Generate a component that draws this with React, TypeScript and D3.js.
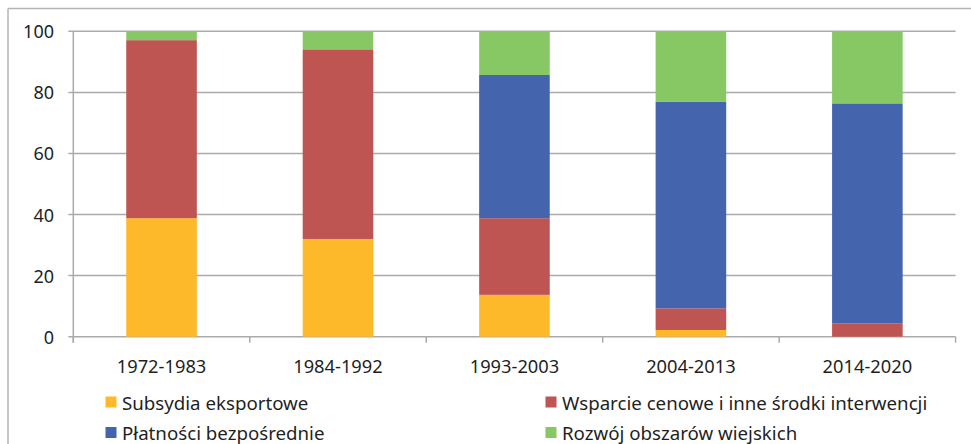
import React from "react";
import * as d3 from "d3";

const categories = ["1972-1983", "1984-1992", "1993-2003", "2004-2013", "2014-2020"];
const seriesNames = [
  "Subsydia eksportowe",
  "Wsparcie cenowe i inne środki interwencji",
  "Płatności bezpośrednie",
  "Rozwój obszarów wiejskich",
];
const subsydia = [38.8, 32, 13.7, 2.2, 0];
const wsparcie = [58.3, 62.1, 25.1, 7.1, 4.4];
const platnosci = [0, 0, 46.9, 67.7, 72.0];
const rozwoj = [2.9, 5.9, 14.3, 23.0, 23.6];
const yTicks = [0, 20, 40, 60, 80, 100];
const colors = ["#FDB92A", "#BE5552", "#4464AE", "#88C864"];

const W = 971;
const H = 444;
const left = 73.3;
const right = 955.6;
const top = 31.3;
const bottom = 336.7;
const font = "'Noto Sans', sans-serif";

export default function App() {
  const x = d3.scaleBand<string>().domain(categories).range([left, right]).padding(0);
  const y = d3.scaleLinear().domain([0, 100]).range([bottom, top]);
  const rows = categories.map((c, i) => ({
    cat: c,
    s0: subsydia[i],
    s1: wsparcie[i],
    s2: platnosci[i],
    s3: rozwoj[i],
  }));
  const stack = d3.stack<any>().keys(["s0", "s1", "s2", "s3"])(rows);
  const bw = x.bandwidth() * 0.4;
  const grid = "#ababab";
  const legendPos = [
    { x: 105.5, y: 402 },
    { x: 545.5, y: 402 },
    { x: 105.5, y: 432.5 },
    { x: 545.5, y: 432.5 },
  ];
  const boundaries = categories.map((c) => x(c)!).concat([right]);

  return (
    <div style={{ position: "fixed", left: 0, top: 0 }}>
      <svg width={W} height={H} style={{ display: "block", background: "#fff" }}>
        <line x1={8} y1={8.5} x2={W} y2={8.5} stroke="#b4b4b4" strokeWidth={1.5} />
        <line x1={8} y1={8.5} x2={8} y2={H} stroke="#b4b4b4" strokeWidth={1.5} />
        {yTicks.map((t) => (
          <g key={t}>
            <line x1={left - 5} x2={right} y1={y(t)} y2={y(t)} stroke={grid} strokeWidth={1.5} />
            <text
              x={54}
              y={y(t)}
              textAnchor="end"
              dominantBaseline="central"
              fontFamily={font}
              fontSize={18}
              fill="#1f1f1f"
            >
              {t}
            </text>
          </g>
        ))}
        {stack.map((layer, li) => (
          <g key={li} fill={colors[li]}>
            {layer.map((d, i) =>
              d[1] - d[0] > 0 ? (
                <rect
                  key={i}
                  x={x(categories[i])! + (x.bandwidth() - bw) / 2}
                  y={y(d[1])}
                  width={bw}
                  height={y(d[0]) - y(d[1])}
                />
              ) : null
            )}
          </g>
        ))}
        <line x1={left} x2={left} y1={top} y2={bottom + 6} stroke={grid} strokeWidth={1.5} />
        {boundaries.map((b, i) => (
          <line key={i} x1={b} x2={b} y1={bottom} y2={bottom + 6} stroke={grid} strokeWidth={1.5} />
        ))}
        {categories.map((c) => (
          <text
            key={c}
            x={x(c)! + x.bandwidth() / 2}
            y={365}
            textAnchor="middle"
            dominantBaseline="central"
            fontFamily={font}
            fontSize={18.3}
            fill="#1f1f1f"
          >
            {c}
          </text>
        ))}
        {seriesNames.map((n, i) => (
          <g key={n}>
            <rect x={legendPos[i].x} y={legendPos[i].y - 5.5} width={11} height={11} fill={colors[i]} />
            <text
              x={legendPos[i].x + 16.5}
              y={legendPos[i].y}
              dominantBaseline="central"
              fontFamily={font}
              fontSize={18.7}
              fill="#1f1f1f"
            >
              {n}
            </text>
          </g>
        ))}
      </svg>
    </div>
  );
}
